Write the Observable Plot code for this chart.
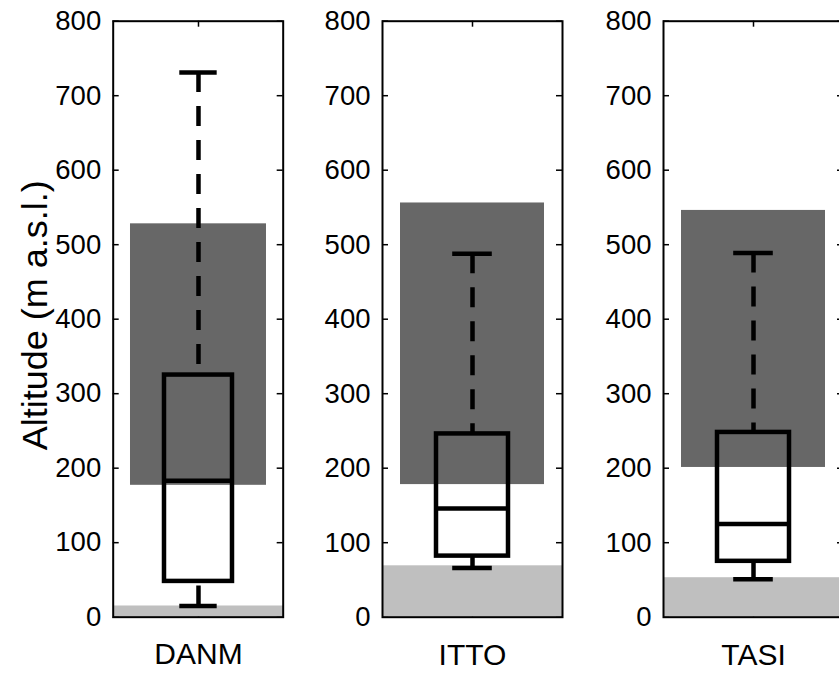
<!DOCTYPE html>
<html>
<head>
<meta charset="utf-8">
<script src="https://cdn.jsdelivr.net/npm/d3@7"></script>
<script src="https://cdn.jsdelivr.net/npm/@observablehq/plot@0.6"></script>
<style>
  html, body { margin: 0; padding: 0; background: #fff; overflow: hidden; }
  #chart { position: relative; width: 839px; height: 683px; overflow: hidden; background: #fff; }
  #chart svg { position: absolute; top: 0; }
</style>
</head>
<body>
<div id="chart"></div>
<script>
// ---- data ----
const categories  = ["DANM", "ITTO", "TASI"];
const whiskerLow  = [15, 66, 51];
const q1          = [48, 82, 75];
const median      = [183, 146, 125];
const q3          = [325, 246, 248];
const whiskerHigh = [731, 488, 489];
const bandLow     = [177, 178, 201];
const bandHigh    = [528, 556, 546];
const groundTop   = [15, 69, 53];
const yTicks      = [0, 100, 200, 300, 400, 500, 600, 700, 800];
const yLabel      = "Altitude (m a.s.l.)";

// ---- layout ----
const frameLeft  = [112.7, 382, 663.3];
const frameWidth = [170, 180, 180];
const marginTop = 20.7, marginBottom = 66.3, H = 683;
const innerH = H - marginTop - marginBottom;
const font = "'Liberation Sans', Arial, Helvetica, sans-serif";

const chart = document.getElementById("chart");

categories.forEach((cat, i) => {
  const w = frameWidth[i];
  const mL = i === 0 ? frameLeft[0] : 90;
  const mR = 8;
  const row = [{
    cat, wl: whiskerLow[i], q1: q1[i], med: median[i], q3: q3[i], wh: whiskerHigh[i],
    bl: bandLow[i], bh: bandHigh[i], g: groundTop[i]
  }];
  const tickLen = 6;
  const marks = [
    // inward tick marks (drawn under the shaded patches)
    Plot.tickY(yTicks, {y: d => d, insetRight: w - tickLen, stroke: "black", strokeWidth: 1.5}),
    Plot.tickY(yTicks, {y: d => d, insetLeft: w - tickLen, stroke: "black", strokeWidth: 1.5}),
    Plot.tickX([cat], {x: d => d, insetBottom: innerH - tickLen, stroke: "black", strokeWidth: 1.5}),
    Plot.tickX([cat], {x: d => d, insetTop: innerH - tickLen, stroke: "black", strokeWidth: 1.5}),
    // ground band (light grey)
    Plot.barY(row, {x: "cat", y1: 0, y2: "g", fill: "#bfbfbf"}),
    // elevation range band (dark grey)
    Plot.barY(row, {x: "cat", y1: "bl", y2: "bh", fill: "#676767", insetLeft: 0.1 * w, insetRight: 0.1 * w}),
    // whiskers
    Plot.ruleX(row, {x: "cat", y1: "wh", y2: "q3", stroke: "black", strokeWidth: 4.5, strokeDasharray: "20,14"}),
    Plot.ruleX(row, {x: "cat", y1: "wl", y2: "q1", stroke: "black", strokeWidth: 4.5, strokeDasharray: "20,14"}),
    Plot.tickY(row, {x: "cat", y: "wh", stroke: "black", strokeWidth: 4.5, insetLeft: 0.39 * w, insetRight: 0.39 * w}),
    Plot.tickY(row, {x: "cat", y: "wl", stroke: "black", strokeWidth: 4.5, insetLeft: 0.39 * w, insetRight: 0.39 * w}),
    // box
    Plot.barY(row, {x: "cat", y1: "q1", y2: "q3", fill: "none", stroke: "black", strokeWidth: 4.5, insetLeft: 0.3 * w, insetRight: 0.3 * w}),
    Plot.tickY(row, {x: "cat", y: "med", stroke: "black", strokeWidth: 4.5, insetLeft: 0.3 * w, insetRight: 0.3 * w}),
    // axes text
    Plot.axisY(yTicks, {anchor: "left", tickSize: 0, tickPadding: 12, fontSize: 27.5, fill: "black", label: null}),
    Plot.axisX({anchor: "bottom", tickSize: 0, tickPadding: 26, fontSize: 30, fill: "black", label: null}),
    Plot.frame({stroke: "black", strokeWidth: 2})
  ];
  if (i === 0) {
    marks.push(Plot.text([yLabel], {frameAnchor: "left", text: d => d, rotate: -90, dx: -78, dy: -4, textAnchor: "middle", fontSize: 36, fill: "black"}));
  }
  const svg = Plot.plot({
    width: mL + w + mR,
    height: H,
    marginLeft: mL, marginRight: mR, marginTop, marginBottom,
    style: {fontFamily: font, background: "transparent", color: "black", overflow: "visible"},
    x: {type: "band", domain: [cat], padding: 0, paddingInner: 0, paddingOuter: 0, axis: null},
    y: {domain: [0, 800], axis: null},
    marks
  });
  svg.style.left = (frameLeft[i] - mL) + "px";
  chart.appendChild(svg);
});
</script>
</body>
</html>
